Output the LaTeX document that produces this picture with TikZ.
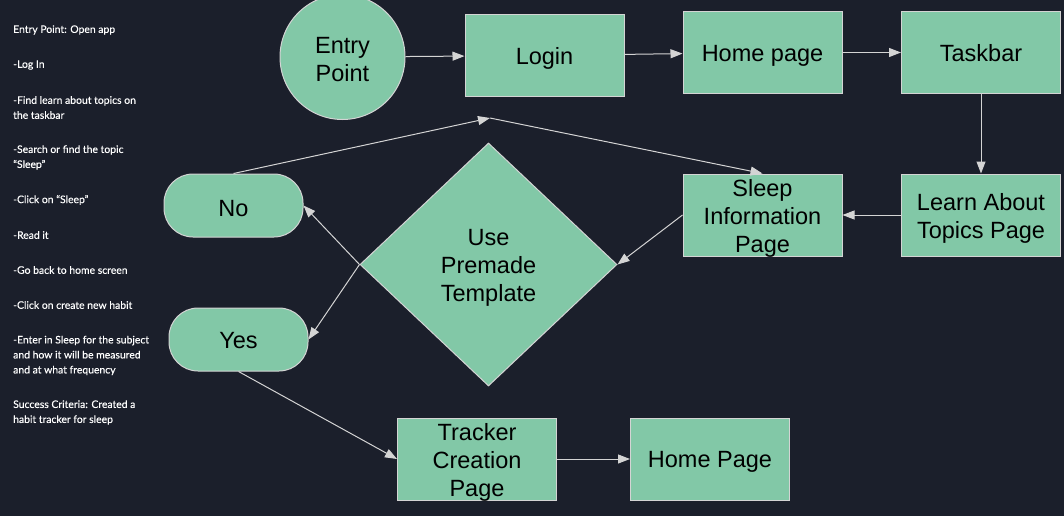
\documentclass[tikz,border=0pt]{standalone}
\usepackage{fontspec}
\setmainfont{Liberation Sans}
\newfontfamily\notefont{Lato}[FakeBold=0.3]
\usetikzlibrary{shapes.geometric,arrows.meta}
\definecolor{bgnavy}{HTML}{1B1F2B}
\definecolor{mint}{HTML}{82C8A7}
\definecolor{edgegrey}{HTML}{D4D4D4}

\begin{document}
\begin{tikzpicture}[x=1pt,y=-1pt,
  flowtext/.style={align=center, text=black, inner sep=0pt, yshift=-3pt,
    font=\fontsize{23.5}{28}\selectfont},
  shapebase/.style={draw=edgegrey, line width=1pt, fill=mint, inner sep=0pt,
    label={[flowtext]center:{#1}}},
  box/.style={shapebase={#1}, rectangle, minimum width=159pt, minimum height=82pt},
  startcircle/.style={shapebase={#1}, circle, minimum size=125pt},
  pill/.style={shapebase={#1}, rectangle, rounded corners=29pt, minimum width=139pt, minimum height=63pt},
  decision/.style={shapebase={#1}, diamond, minimum width=257pt, minimum height=243pt},
  link/.style={draw=edgegrey, line width=1pt, -{Triangle[length=12pt,width=9pt]}},
  note/.style={anchor=west, align=left, inner sep=0pt, text=white,
    font=\notefont\fontsize{10.4}{15}\selectfont}]

% canvas
\fill[bgnavy] (0,0) rectangle (1064,516);
\useasboundingbox (0,0) rectangle (1064,516);

% task steps
\node[note] (n1) at (13,30) {Entry Point: Open app};
\node[note] (n2) at (13,65) {-Log In};
\node[note] (n3) at (13,107.5) {-Find learn about topics on\\the taskbar};
\node[note] (n4) at (13,157.5) {-Search or find the topic\\“Sleep”};
\node[note] (n5) at (13,200) {-Click on “Sleep”};
\node[note] (n6) at (13,235) {-Read it};
\node[note] (n7) at (13,270) {-Go back to home screen};
\node[note] (n8) at (13,305) {-Click on create new habit};
\node[note] (n9) at (13,355.5) {-Enter in Sleep for the subject\\and how it will be measured\\and at what frequency};
\node[note] (n10) at (13,412.5) {Success Criteria: Created a\\habit tracker for sleep};

% flow nodes (captions are centred labels, set slightly low in each shape)
\node[startcircle={Entry\\Point}] (entry) at (342.5,57) {};
\node[box={Login}] (login) at (544.5,55.5) {};
\node[box={Home page}] (home) at (762.5,52.5) {};
\node[box={Taskbar\vphantom{g}}] (taskbar) at (981,52.5) {};
\node[box={Learn About\\Topics Page}] (learn) at (981,215) {};
\node[box={Sleep\\Information\\Page}] (sleep) at (762.5,215) {};
\node[decision={Use\\Premade\\Template}] (tmpl) at (488.5,264.5) {};
\node[pill={No}] (no) at (233.5,205.5) {};
\node[pill={Yes\vphantom{g}}] (yes) at (238.5,339.5) {};
\node[box={Tracker\\Creation\\Page}] (tracker) at (477,459) {};
\node[box={Home Page}] (homepage) at (710,459) {};
\coordinate (bend) at (490,118);

% connectors
\draw[link] (entry) -- (login);
\draw[link] (login) -- (home);
\draw[link] (home) -- (taskbar);
\draw[link] (taskbar) -- (learn);
\draw[link] (learn) -- (sleep);
\draw[link] (sleep.west) -- (tmpl.east);
\draw[link] (tmpl.west) -- (no.east);
\draw[link] (tmpl.west) -- (yes.east);
\draw[link] (no.north) -- (bend);
\draw[link] (bend) -- (sleep.north);
\draw[link] (yes.south) -- (tracker.west);
\draw[link] (tracker) -- (homepage);
\end{tikzpicture}
\end{document}
